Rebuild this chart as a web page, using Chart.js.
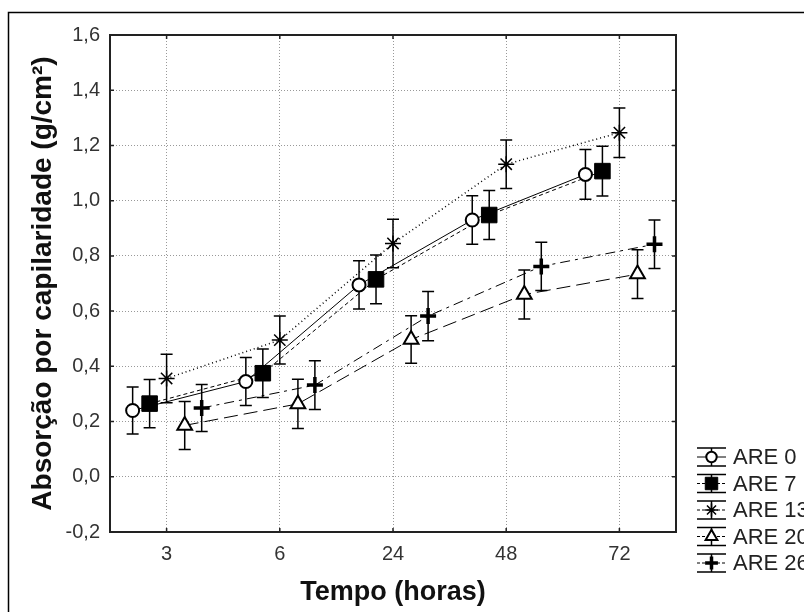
<!DOCTYPE html>
<html lang="pt-BR">
<head>
    <meta charset="UTF-8">
    <title>Absorção por capilaridade</title>
    <style>
        body {
            margin: 0;
            background: #fff;
        }
        #chart {
            display: block;
        }
    </style>
</head>
<body>

<canvas id="chart" width="804" height="612"></canvas>

<script src="https://cdn.jsdelivr.net/npm/chart.js"></script>
<script>
    // dados
    const categories = ['3', '6', '24', '48', '72'];
    const seriesNames = ['ARE 0', 'ARE 7', 'ARE 13', 'ARE 20', 'ARE 26'];

    const are0 = [0.240, 0.345, 0.695, 0.930, 1.095];
    const are0Err = [0.085, 0.087, 0.087, 0.088, 0.090];
    const are7 = [0.265, 0.375, 0.715, 0.948, 1.107];
    const are7Err = [0.087, 0.088, 0.088, 0.089, 0.090];
    const are13 = [0.356, 0.495, 0.845, 1.132, 1.246];
    const are13Err = [0.088, 0.087, 0.088, 0.088, 0.090];
    const are20 = [0.186, 0.264, 0.497, 0.660, 0.734];
    const are20Err = [0.087, 0.089, 0.086, 0.089, 0.088];
    const are26 = [0.249, 0.332, 0.582, 0.762, 0.842];
    const are26Err = [0.085, 0.088, 0.089, 0.087, 0.088];

    const yTicks = [-0.2, 0, 0.2, 0.4, 0.6, 0.8, 1.0, 1.2, 1.4, 1.6];

    // estilos de cada série (deslocamento horizontal, marcador, traço)
    const styles = [
        { shift: -0.30, style: 'circle',   r: 6.5, fill: '#fff', bw: 2,   dash: [] },
        { shift: -0.15, style: 'rect',     r: 11,  fill: '#000', bw: 1,   dash: [4, 3] },
        { shift: 0,     style: 'star',     r: 8,   fill: '#000', bw: 1.5, dash: [1, 3] },
        { shift: 0.16,  style: 'triangle', r: 8.5, fill: '#fff', bw: 2,   dash: [14, 6] },
        { shift: 0.31,  style: 'cross',    r: 8,   fill: '#000', bw: 3.5, dash: [10, 5, 3, 5] }
    ];

    const values = [are0, are7, are13, are20, are26];
    const errors = [are0Err, are7Err, are13Err, are20Err, are26Err];
    const FONT = '"Liberation Sans", Arial, sans-serif';

    const datasets = values.map((vals, s) => ({
        label: seriesNames[s],
        data: vals.map((v, i) => ({ x: i + styles[s].shift, y: v })),
        errors: errors[s],
        borderColor: '#000',
        borderWidth: s === 2 ? 1.5 : 1,
        borderDash: styles[s].dash,
        pointStyle: styles[s].style,
        pointRadius: styles[s].r,
        pointBackgroundColor: styles[s].fill,
        pointBorderColor: '#000',
        pointBorderWidth: styles[s].bw,
        tension: 0
    }));

    // barras de erro, desenhadas antes dos marcadores
    const errorBars = {
        id: 'errorBars',
        beforeDatasetsDraw(chart) {
            const ctx = chart.ctx;
            const ys = chart.scales.y;
            ctx.save();
            ctx.strokeStyle = '#000';
            ctx.lineWidth = 1.5;
            chart.data.datasets.forEach((ds, d) => {
                const meta = chart.getDatasetMeta(d);
                meta.data.forEach((pt, j) => {
                    const v = ds.data[j].y, e = ds.errors[j];
                    const x = pt.x;
                    const y1 = ys.getPixelForValue(v + e);
                    const y2 = ys.getPixelForValue(v - e);
                    ctx.beginPath();
                    ctx.moveTo(x, y1); ctx.lineTo(x, y2);
                    ctx.moveTo(x - 6, y1); ctx.lineTo(x + 6, y1);
                    ctx.moveTo(x - 6, y2); ctx.lineTo(x + 6, y2);
                    ctx.stroke();
                });
            });
            ctx.restore();
        }
    };

    // moldura, marcas internas, borda externa e legenda
    const frame = {
        id: 'frame',
        beforeDraw(chart) {
            const ctx = chart.ctx;
            ctx.save();
            ctx.fillStyle = '#fff';
            ctx.fillRect(0, 0, chart.width, chart.height);
            ctx.strokeStyle = '#000';
            ctx.lineWidth = 1.5;
            ctx.strokeRect(8.5, 12.5, 900, 900);
            ctx.restore();
        },
        afterDraw(chart) {
            const ctx = chart.ctx;
            const a = chart.chartArea;
            ctx.save();
            ctx.strokeStyle = '#222';
            ctx.lineWidth = 2;
            ctx.strokeRect(a.left, a.top, a.right - a.left, a.bottom - a.top);
            ctx.lineWidth = 1.5;
            ctx.beginPath();
            chart.scales.x.ticks.forEach(t => {
                const x = chart.scales.x.getPixelForValue(t.value);
                ctx.moveTo(x, a.bottom); ctx.lineTo(x, a.bottom - 4);
                ctx.moveTo(x, a.top); ctx.lineTo(x, a.top + 4);
            });
            chart.scales.y.ticks.forEach(t => {
                const y = chart.scales.y.getPixelForValue(t.value);
                ctx.moveTo(a.left, y); ctx.lineTo(a.left + 4, y);
                ctx.moveTo(a.right, y); ctx.lineTo(a.right - 4, y);
            });
            ctx.stroke();

            // legenda
            const lx = 697, lw = 29;
            chart.data.datasets.forEach((ds, d) => {
                const cy = 457 + d * 26.5;
                const cx = lx + lw / 2;
                ctx.strokeStyle = '#000';
                ctx.lineWidth = 1.5;
                ctx.setLineDash([]);
                ctx.beginPath();
                ctx.moveTo(lx, cy - 9); ctx.lineTo(lx + lw, cy - 9);
                ctx.moveTo(lx, cy + 9); ctx.lineTo(lx + lw, cy + 9);
                ctx.moveTo(cx, cy - 9); ctx.lineTo(cx, cy + 9);
                ctx.stroke();
                ctx.lineWidth = 1;
                ctx.setLineDash(d === 0 ? [] : [3, 2]);
                ctx.beginPath();
                ctx.moveTo(lx, cy); ctx.lineTo(lx + lw, cy);
                ctx.stroke();
                ctx.setLineDash([]);
                const st = styles[d];
                ctx.fillStyle = st.fill;
                ctx.lineWidth = st.bw;
                Chart.helpers.drawPoint(ctx, {
                    pointStyle: st.style,
                    radius: st.r * 0.8,
                    rotation: 0,
                    borderWidth: st.bw
                }, cx, cy);
                ctx.fillStyle = '#222';
                ctx.font = '22px ' + FONT;
                ctx.textAlign = 'left';
                ctx.textBaseline = 'middle';
                ctx.fillText(ds.label, 733, cy + 1);
            });
            ctx.restore();
        }
    };

    new Chart(document.getElementById('chart'), {
        type: 'line',
        data: { datasets: datasets },
        options: {
            responsive: false,
            animation: false,
            layout: { padding: { left: 0, right: 128, top: 35, bottom: 0 } },
            plugins: {
                legend: { display: false },
                tooltip: { enabled: false }
            },
            scales: {
                x: {
                    type: 'linear',
                    min: -0.5,
                    max: 4.5,
                    afterBuildTicks: s => { s.ticks = categories.map((c, i) => ({ value: i })); },
                    afterFit: s => { s.height = 80; },
                    ticks: {
                        callback: v => categories[v],
                        color: '#333',
                        padding: 10,
                        font: { family: FONT, size: 20 }
                    },
                    grid: { color: '#999', drawTicks: false, borderDash: [1, 2] },
                    border: { display: false, dash: [1, 2] },
                    title: {
                        display: true,
                        text: 'Tempo (horas)',
                        color: '#111',
                        padding: { top: 0, bottom: 3 },
                        font: { family: FONT, size: 27, weight: 'bold' }
                    }
                },
                y: {
                    min: -0.2,
                    max: 1.6,
                    afterBuildTicks: s => { s.ticks = yTicks.map(v => ({ value: v })); },
                    afterFit: s => { s.width = 110; },
                    ticks: {
                        callback: v => v.toFixed(1).replace('.', ','),
                        color: '#333',
                        padding: 10,
                        font: { family: FONT, size: 20 }
                    },
                    grid: { color: '#999', drawTicks: false, borderDash: [1, 2] },
                    border: { display: false, dash: [1, 2] },
                    title: {
                        display: true,
                        text: 'Absorção por capilaridade (g/cm²)',
                        color: '#111',
                        padding: { top: 26, bottom: 0 },
                        font: { family: FONT, size: 28, weight: 'bold' }
                    }
                }
            }
        },
        plugins: [errorBars, frame]
    });
</script>

</body>
</html>
